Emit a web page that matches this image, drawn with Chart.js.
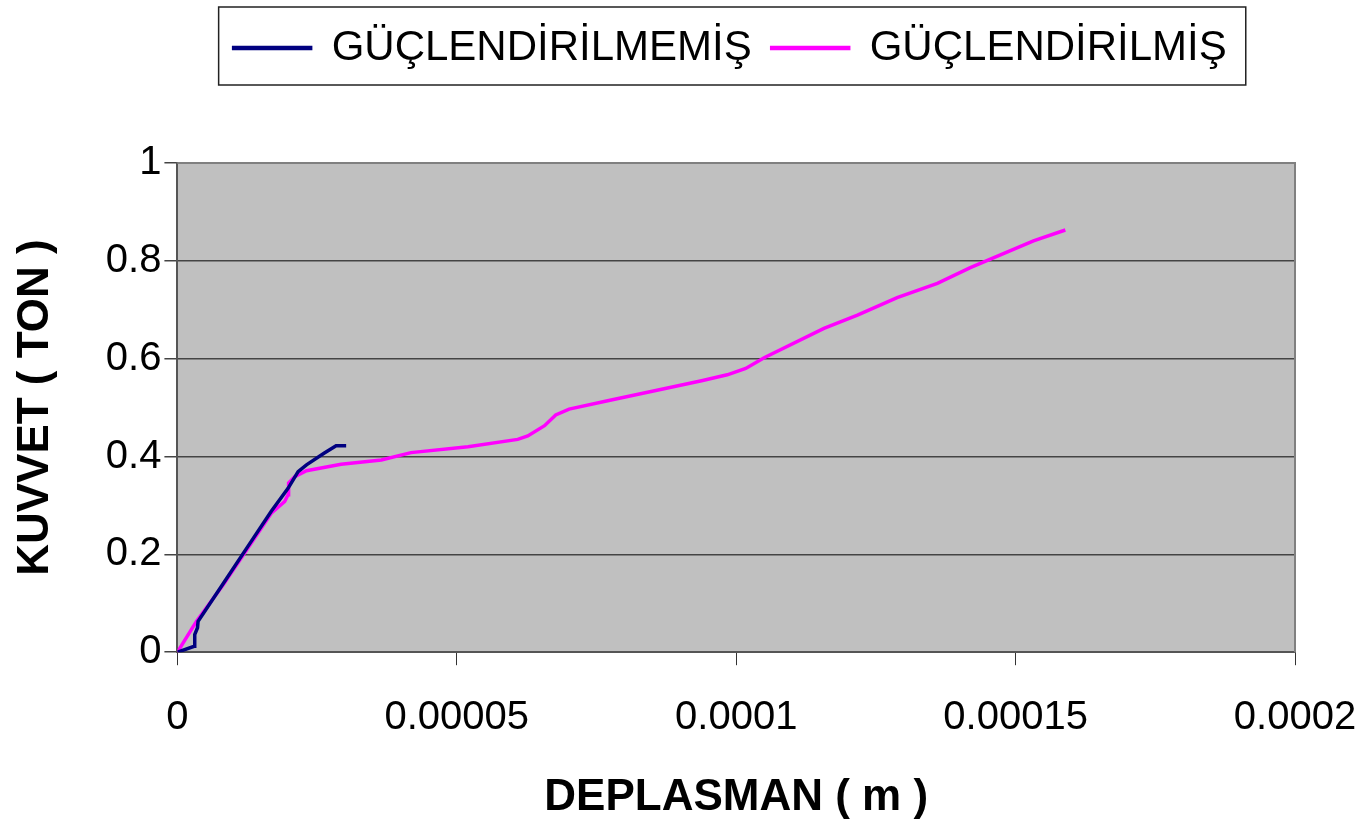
<!DOCTYPE html>
<html>
<head>
<meta charset="utf-8">
<script src="https://cdn.jsdelivr.net/npm/chart.js@4"></script>
<style>
  html, body { margin: 0; padding: 0; background: #fff; }
  #wrap { width: 1370px; height: 824px; }
</style>
</head>
<body>
<div id="wrap"><canvas id="mainChart" width="1370" height="824"></canvas></div>
<script>
// series names
var seriesNames = ['GÜÇLENDİRİLMEMİŞ', 'GÜÇLENDİRİLMİŞ'];

// unreinforced: displacement (m) / force (ton)
var unreinforcedX = [0, 0.0000030, 0.0000031, 0.0000036, 0.0000037, 0.0000080, 0.0000130, 0.0000168, 0.0000198, 0.0000216, 0.0000231, 0.0000263, 0.0000284, 0.0000302];
var unreinforcedY = [0, 0.012, 0.036, 0.050, 0.063, 0.137, 0.223, 0.288, 0.335, 0.369, 0.383, 0.407, 0.422, 0.422];

// reinforced
var reinforcedX = [0, 0.0000034, 0.0000082, 0.0000168, 0.0000192, 0.0000198, 0.0000199, 0.0000210, 0.0000231, 0.0000293,
    0.0000365, 0.0000418, 0.0000520, 0.0000609, 0.0000627, 0.0000657, 0.0000677, 0.0000701, 0.0000770, 0.0000938,
    0.0000984, 0.0001017, 0.0001050, 0.0001157, 0.0001217, 0.0001288, 0.0001360, 0.0001419, 0.0001532, 0.0001589];
var reinforcedY = [0, 0.063, 0.138, 0.284, 0.308, 0.322, 0.346, 0.359, 0.371, 0.384,
    0.393, 0.408, 0.420, 0.435, 0.442, 0.463, 0.485, 0.497, 0.514, 0.555,
    0.567, 0.580, 0.602, 0.662, 0.689, 0.725, 0.754, 0.786, 0.841, 0.863];

// tick labels
var xTickLabels = ['0', '0.00005', '0.0001', '0.00015', '0.0002'];
var yTickLabels = ['0', '0.2', '0.4', '0.6', '0.8', '1'];

function toPoints(xs, ys) {
    return xs.map(function (x, i) { return { x: x, y: ys[i] }; });
}

// grey plot background and border on top/right
var plotBox = {
    id: 'plotBox',
    beforeDraw: function (chart) {
        var a = chart.chartArea, ctx = chart.ctx;
        ctx.save();
        ctx.fillStyle = '#c0c0c0';
        ctx.fillRect(a.left, a.top, a.right - a.left, a.bottom - a.top);
        ctx.restore();
    },
    afterDatasetsDraw: function (chart) {
        var a = chart.chartArea, ctx = chart.ctx;
        ctx.save();
        ctx.strokeStyle = '#808080';
        ctx.lineWidth = 2;
        ctx.beginPath();
        ctx.moveTo(a.left, a.top);
        ctx.lineTo(a.right, a.top);
        ctx.lineTo(a.right, a.bottom);
        ctx.stroke();
        ctx.restore();
    }
};

// extra room under the legend + frame around it
var legendFrame = {
    id: 'legendFrame',
    beforeInit: function (chart) {
        var fit = chart.legend.fit;
        chart.legend.fit = function () {
            fit.bind(chart.legend)();
            this.height += 84;
        };
    },
    afterLayout: function (chart) {
        // nudge the legend a bit to the left
        chart.legend.left -= 6;
        chart.legend.right -= 6;
    },
    afterDraw: function (chart) {
        var hb = chart.legend.legendHitBoxes;
        if (!hb || !hb.length) return;
        var first = hb[0], last = hb[hb.length - 1];
        var cy = first.top + first.height / 2;
        var ctx = chart.ctx;
        ctx.save();
        ctx.strokeStyle = '#222';
        ctx.lineWidth = 1.5;
        ctx.strokeRect(first.left - 15, cy - 41, last.left + last.width - first.left + 34, 78);
        ctx.restore();
    }
};

var ctx = document.getElementById('mainChart').getContext('2d');
var chart = new Chart(ctx, {
    type: 'line',
    data: {
        datasets: [{
            label: seriesNames[0],
            data: toPoints(unreinforcedX, unreinforcedY),
            borderColor: '#000080',
            backgroundColor: '#000080',
            borderWidth: 3.5,
            pointRadius: 0,
            tension: 0
        }, {
            label: seriesNames[1],
            data: toPoints(reinforcedX, reinforcedY),
            borderColor: '#ff00ff',
            backgroundColor: '#ff00ff',
            borderWidth: 3.5,
            pointRadius: 0,
            tension: 0
        }]
    },
    options: {
        responsive: false,
        animation: false,
        layout: { padding: { left: 0, right: 75, top: 7, bottom: 0 } },
        plugins: {
            legend: {
                position: 'top',
                fullSize: false,
                labels: {
                    boxWidth: 77,
                    boxHeight: 1,
                    padding: 20,
                    color: '#000',
                    font: { family: 'Liberation Sans', size: 42 }
                }
            },
            tooltip: { enabled: false }
        },
        scales: {
            x: {
                type: 'linear',
                min: 0,
                max: 0.0002,
                afterFit: function (scale) {
                    // last label may hang over the right edge, layout padding handles it
                    scale.paddingRight = 60;
                },
                ticks: {
                    stepSize: 0.00005,
                    padding: 29,
                    color: '#000',
                    font: { family: 'Liberation Sans', size: 40 },
                    maxRotation: 0,
                    callback: function (v, i) { return xTickLabels[i]; }
                },
                grid: { drawOnChartArea: false, drawTicks: true, tickLength: 13, color: '#333' },
                border: { color: '#555', width: 2 },
                title: {
                    display: true,
                    text: 'DEPLASMAN ( m )',
                    color: '#000',
                    font: { family: 'Liberation Sans', size: 44, weight: 'bold' },
                    padding: { top: 0, bottom: 0 }
                }
            },
            y: {
                min: 0,
                max: 1,
                ticks: {
                    stepSize: 0.2,
                    padding: 3,
                    color: '#000',
                    font: { family: 'Liberation Sans', size: 40 },
                    callback: function (v, i) { return yTickLabels[i]; }
                },
                grid: { color: '#444', lineWidth: 1.5, tickLength: 13 },
                border: { color: '#555', width: 2 },
                title: {
                    display: true,
                    text: 'KUVVET ( TON )',
                    color: '#000',
                    font: { family: 'Liberation Sans', size: 44, weight: 'bold' },
                    padding: { top: 9, bottom: 41 }
                }
            }
        }
    },
    plugins: [plotBox, legendFrame]
});
</script>
</body>
</html>
